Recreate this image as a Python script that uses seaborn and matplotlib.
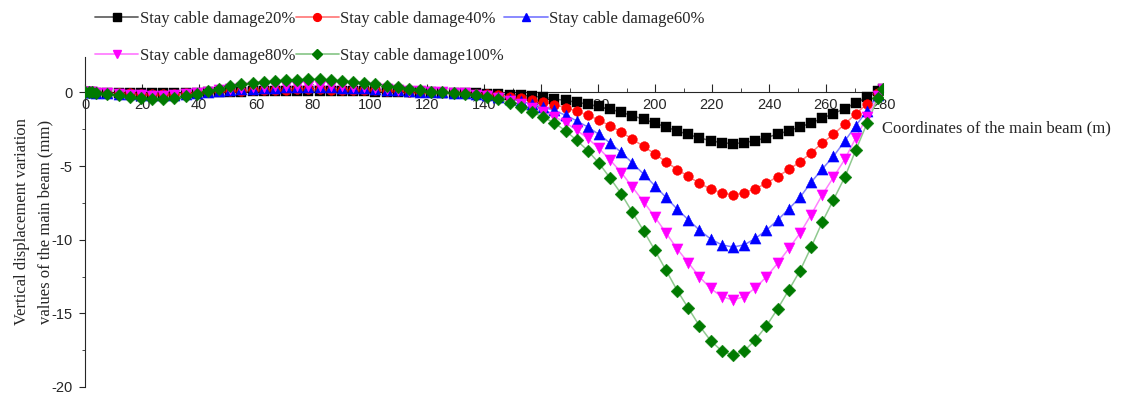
import numpy as np
import pandas as pd
import matplotlib
matplotlib.use("Agg")
import matplotlib.pyplot as plt
from matplotlib.lines import Line2D
from matplotlib.ticker import MultipleLocator
import seaborn as sns

# node coordinates along the main beam (m)
x_coord = [0, 1.3, 2.6, 3.9, 7.8, 11.8, 15.7, 19.6, 23.5, 27.4, 31.4, 35.3, 39.2,
           43.1, 47.0, 51.0, 54.9, 58.8, 62.7, 66.6, 70.6, 74.5, 78.4, 82.3, 86.2,
           90.2, 94.1, 98.0, 101.9, 105.8, 109.8, 113.7, 117.6, 121.5, 125.4, 129.4,
           133.3,
           137.2, 141.1, 145.0, 149.0, 152.9, 156.8, 160.7, 164.6, 168.6, 172.5,
           176.4, 180.3, 184.2, 188.2, 192.1, 196.0, 199.9, 203.8, 207.8, 211.7,
           215.6, 219.5, 223.4, 227.4, 231.3, 235.2, 239.1, 243.0, 247.0, 250.9,
           254.8, 258.7, 262.6, 266.6, 270.5, 274.4, 278.3, 280]

damage20 = [0.0, 0.0, 0.0, -0.01, -0.02, -0.03, -0.04, -0.05, -0.05, -0.05, -0.04, -0.03, -0.01,
            0.01, 0.03, 0.04, 0.05, 0.06, 0.07, 0.07, 0.08, 0.08, 0.08, 0.08, 0.08,
            0.07, 0.07, 0.06, 0.05, 0.04, 0.03, 0.02, 0.01, 0.0, -0.01, -0.02,
            -0.03,
            -0.05, -0.08, -0.12, -0.16, -0.2, -0.26, -0.33, -0.45, -0.55, -0.67,
            -0.8, -0.96, -1.14, -1.35, -1.59, -1.83, -2.08, -2.35, -2.62, -2.86,
            -3.09, -3.28, -3.42, -3.48, -3.42, -3.27, -3.07, -2.84, -2.6, -2.35,
            -2.08, -1.76, -1.44, -1.1, -0.72, -0.33, 0.08, 0.25]

damage40 = [0.01, 0.0, 0.0, -0.01, -0.03, -0.05, -0.07, -0.09, -0.1, -0.1, -0.09, -0.07, -0.02,
            0.02, 0.06, 0.1, 0.12, 0.15, 0.16, 0.18, 0.19, 0.2, 0.2, 0.2, 0.19,
            0.18, 0.16, 0.15, 0.13, 0.1, 0.08, 0.05, 0.03, 0.01, 0.0, -0.02,
            -0.04,
            -0.08, -0.14, -0.2, -0.3, -0.4, -0.53, -0.67, -0.83, -1.03, -1.28,
            -1.55, -1.88, -2.27, -2.7, -3.18, -3.67, -4.17, -4.7, -5.24, -5.71,
            -6.17, -6.56, -6.83, -6.95, -6.83, -6.54, -6.17, -5.72, -5.22, -4.72,
            -4.1, -3.43, -2.85, -2.15, -1.45, -0.77, -0.05, 0.25]

damage60 = [0.02, 0.01, 0.0, -0.02, -0.05, -0.08, -0.12, -0.15, -0.17, -0.17, -0.15, -0.11, -0.04,
            0.04, 0.11, 0.17, 0.22, 0.26, 0.29, 0.32, 0.34, 0.36, 0.36, 0.36, 0.34,
            0.32, 0.29, 0.27, 0.23, 0.19, 0.14, 0.1, 0.05, 0.02, 0.0, -0.03,
            -0.06,
            -0.12, -0.2, -0.3, -0.45, -0.6, -0.8, -1.0, -1.23, -1.55, -1.93,
            -2.35, -2.85, -3.43, -4.08, -4.8, -5.55, -6.33, -7.12, -7.93, -8.65,
            -9.35, -9.95, -10.35, -10.5, -10.35, -9.92, -9.35, -8.68, -7.9, -7.12,
            -6.1, -5.2, -4.35, -3.3, -2.25, -1.25, -0.15, 0.25]

damage80 = [0.03, 0.01, 0.0, -0.03, -0.07, -0.1, -0.15, -0.19, -0.22, -0.22, -0.19, -0.14, -0.05,
            0.05, 0.13, 0.22, 0.28, 0.33, 0.37, 0.4, 0.42, 0.45, 0.45, 0.45, 0.43,
            0.4, 0.37, 0.33, 0.29, 0.24, 0.18, 0.12, 0.07, 0.03, 0.0, -0.04,
            -0.07,
            -0.16, -0.26, -0.37, -0.58, -0.79, -1.05, -1.33, -1.64, -2.05, -2.57,
            -3.12, -3.79, -4.58, -5.45, -6.44, -7.43, -8.45, -9.52, -10.63, -11.57,
            -12.52, -13.31, -13.86, -14.1, -13.86, -13.27, -12.52, -11.61, -10.59, -9.56,
            -8.3, -6.95, -5.77, -4.54, -3.08, -1.66, -0.28, 0.25]

damage100 = [0.05, 0.02, 0.0, -0.05, -0.14, -0.2, -0.3, -0.38, -0.42, -0.43, -0.38, -0.28, -0.1,
             0.09, 0.26, 0.43, 0.55, 0.64, 0.72, 0.78, 0.83, 0.87, 0.88, 0.88, 0.84,
             0.79, 0.72, 0.65, 0.56, 0.46, 0.35, 0.24, 0.13, 0.05, 0.0, -0.05,
             -0.08,
             -0.2, -0.33, -0.47, -0.74, -1.0, -1.33, -1.68, -2.07, -2.6, -3.25,
             -3.95, -4.8, -5.8, -6.9, -8.15, -9.4, -10.7, -12.05, -13.45, -14.65,
             -15.85, -16.85, -17.55, -17.85, -17.55, -16.8, -15.85, -14.7, -13.4, -12.1,
             -10.5, -8.8, -7.3, -5.75, -3.9, -2.1, -0.35, 0.25]

labels = ["Stay cable damage20%", "Stay cable damage40%", "Stay cable damage60%",
          "Stay cable damage80%", "Stay cable damage100%"]
series = [damage20, damage40, damage60, damage80, damage100]

# marker colour, line colour, marker, marker size
styles = [
    ("#000000", "#666666", "s", 6.5),
    ("#ff0000", "#ff7f7f", "o", 7),
    ("#0000ff", "#8080ff", "^", 8),
    ("#ff00ff", "#ff80ff", "v", 8),
    ("#007a00", "#8fc98f", "D", 6.5),
]

frames = []
for lab, vals in zip(labels, series):
    assert len(vals) == len(x_coord)
    frames.append(pd.DataFrame({"x": x_coord, "val": vals, "case": lab}))
df = pd.concat(frames)

sns.set_style("ticks")
plt.rcParams['font.family'] = ['Liberation Sans', 'DejaVu Sans']
plt.rcParams['axes.unicode_minus'] = False

fig = plt.figure(figsize=(11.43, 3.95), dpi=100)
ax = fig.add_axes([85 / 1143, 8 / 395, 798 / 1143, 330 / 395])

handles = []
for lab, (mc, lc, mk, ms) in zip(labels, styles):
    d = df[df["case"] == lab]
    sns.lineplot(data=d, x="x", y="val", color=lc, lw=1.1, ax=ax, legend=False, zorder=2)
    sns.scatterplot(data=d, x="x", y="val", marker=mk, color=mc, s=ms ** 2,
                    edgecolor=mc, linewidth=0.3, ax=ax, legend=False, zorder=3)
    handles.append(Line2D([0], [0], color=lc, lw=1.3, marker=mk, markersize=ms * 0.8,
                          markerfacecolor=mc, markeredgecolor=mc))

order = [0, 3, 1, 4, 2]
ax.legend([handles[i] for i in order], [labels[i] for i in order], ncol=3,
          loc="upper left", bbox_to_anchor=(95 / 1143, 1 - 11 / 395),
          bbox_transform=fig.transFigure, frameon=False,
          prop={"family": "Liberation Serif", "size": 12},
          handlelength=2.6, handletextpad=0.1, columnspacing=0.0,
          labelspacing=1.25, borderpad=0, borderaxespad=0, numpoints=1)

ax.set_xlim(0, 280)
ax.set_ylim(-20, 2.4)
ax.spines["bottom"].set_position(("data", 0))
ax.spines["top"].set_visible(False)
ax.spines["right"].set_visible(False)
ax.xaxis.set_major_locator(MultipleLocator(20))
ax.xaxis.set_minor_locator(MultipleLocator(10))
ax.yaxis.set_major_locator(MultipleLocator(5))
ax.yaxis.set_minor_locator(MultipleLocator(2.5))
ax.tick_params(axis="x", which="major", direction="in", length=6, labelsize=10.5, pad=4)
ax.tick_params(axis="x", which="minor", direction="in", length=3)
ax.tick_params(axis="y", which="major", direction="out", length=4, labelsize=10.5, pad=5)
ax.tick_params(axis="y", which="minor", direction="out", length=2)

ax.set_xlabel("Coordinates of the main beam (m)", fontfamily="Liberation Serif",
              fontsize=12, ha="left", va="center")
ax.xaxis.set_label_coords((882 - 85) / 798, (387 - 128) / 330)
ax.set_ylabel("Vertical displacement variation\nvalues of the main beam (mm)",
              fontfamily="Liberation Serif", fontsize=12, linespacing=1.6)
ax.yaxis.set_label_coords(-0.04, 0.5)

fig.savefig("out.png", dpi=100)
